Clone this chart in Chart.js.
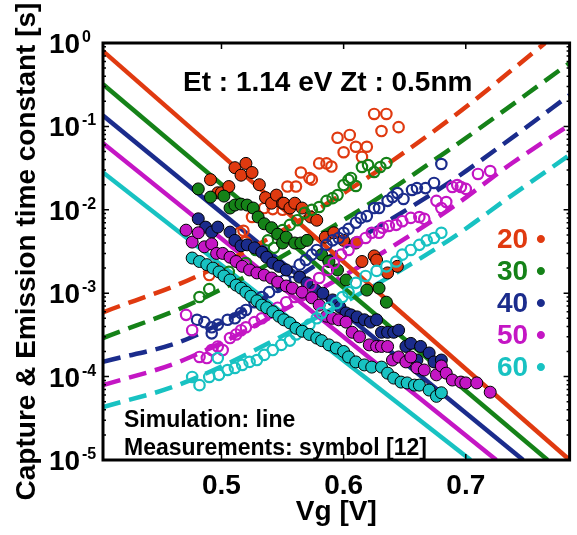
<!DOCTYPE html>
<html>
<head>
<meta charset="utf-8">
<script src="https://cdn.jsdelivr.net/npm/chart.js@4"></script>
<style>
  html, body { margin: 0; padding: 0; background: #fff; }
  #wrap { width: 577px; height: 535px; }
</style>
</head>
<body>
<div id="wrap"><canvas id="tau" width="577" height="535"></canvas></div>
<script>
const temps = ['20', '30', '40', '50', '60'];
const colors = ['#e03a10', '#158218', '#1b2c8c', '#c416c4', '#18c2c2'];

// measurements - capture (filled symbols)
const capVg20 = [0.491,0.497,0.500,0.506,0.511,0.516,0.520,0.525,0.531,0.536,0.541,0.545,0.550,0.551,0.556,0.560,0.566,0.573,0.578,0.585,0.592,0.600,0.610,0.615,0.625,0.627,0.636,0.644];
const capTau20 = [2.3e-2,1.6e-2,1.6e-2,1.9e-2,3.2e-2,2.6e-2,3.6e-2,2.8e-2,2.0e-2,1.4e-2,1.2e-2,1.5e-2,1.2e-2,1.2e-2,1.05e-2,1.2e-2,1.05e-2,8.2e-3,7.5e-3,4.7e-3,5.3e-3,4.3e-3,4.0e-3,2.4e-3,2.8e-3,2.5e-3,1.75e-3,2.1e-3];
const capVg30 = [0.481,0.491,0.502,0.507,0.511,0.516,0.521,0.526,0.530,0.535,0.541,0.546,0.550,0.553,0.560,0.565,0.570,0.582,0.588,0.595,0.602,0.619,0.629,0.635];
const capTau30 = [1.78e-2,1.42e-2,1.46e-2,1.05e-2,1.14e-2,1.17e-2,1.14e-2,1.05e-2,8.2e-3,6.8e-3,6.1e-3,5.1e-3,4.0e-3,4.7e-3,4.0e-3,4.0e-3,4.3e-3,2.9e-3,2.4e-3,1.9e-3,1.44e-3,1.09e-3,1.15e-3,7.8e-4];
const capVg40 = [0.481,0.487,0.492,0.497,0.507,0.511,0.516,0.521,0.527,0.533,0.537,0.542,0.547,0.553,0.564,0.570,0.577,0.583,0.591,0.597,0.602,0.606,0.611,0.617,0.622,0.627,0.631,0.636,0.641,0.645,0.651,0.655,0.663,0.660,0.670,0.674,0.680];
const capTau40 = [7.8e-3,6.2e-3,5.4e-3,6.2e-3,5.4e-3,4.3e-3,3.7e-3,3.8e-3,3.5e-3,3.1e-3,2.7e-3,2.3e-3,2.1e-3,1.9e-3,1.56e-3,1.33e-3,1.09e-3,1.0e-3,8.3e-4,6.8e-4,5.8e-4,5.5e-4,5.2e-4,4.8e-4,4.5e-4,4.8e-4,3.4e-4,3.4e-4,3.4e-4,3.6e-4,2.3e-4,2.5e-4,2.3e-4,1.58e-4,1.92e-4,1.5e-4,1.58e-4];
const capVg50 = [0.471,0.476,0.481,0.486,0.492,0.496,0.501,0.507,0.512,0.517,0.523,0.529,0.535,0.541,0.546,0.553,0.558,0.566,0.574,0.580,0.586,0.591,0.596,0.602,0.607,0.613,0.621,0.627,0.631,0.636,0.640,0.645,0.651,0.655,0.660,0.666,0.676,0.680,0.684,0.689,0.696,0.700,0.709,0.720];
const capTau50 = [5.7e-3,4.1e-3,5.3e-3,3.6e-3,3.9e-3,3.0e-3,3.0e-3,2.7e-3,2.4e-3,2.1e-3,1.9e-3,1.75e-3,1.65e-3,1.52e-3,1.36e-3,1.22e-3,1.15e-3,1.03e-3,8.8e-4,7.2e-4,5.3e-4,5.0e-4,4.8e-4,4.5e-4,3.4e-4,3.0e-4,2.4e-4,2.3e-4,2.3e-4,2.3e-4,1.58e-4,1.72e-4,1.5e-4,1.72e-4,1.27e-4,1.2e-4,1.05e-4,1.34e-4,1.1e-4,9.1e-5,8.6e-5,8.4e-5,8.4e-5,6.5e-5];
const capVg60 = [0.476,0.482,0.488,0.493,0.498,0.502,0.507,0.512,0.516,0.520,0.524,0.529,0.533,0.537,0.542,0.547,0.551,0.556,0.561,0.566,0.572,0.578,0.582,0.588,0.594,0.600,0.604,0.610,0.617,0.623,0.631,0.636,0.641,0.647,0.652,0.658,0.662,0.670,0.676,0.680];
const capTau60 = [2.64e-3,2.4e-3,2.2e-3,2.0e-3,1.8e-3,1.61e-3,1.44e-3,1.25e-3,1.15e-3,1.03e-3,9.2e-4,8.1e-4,7.2e-4,6.7e-4,6.0e-4,5.3e-4,4.8e-4,4.4e-4,3.8e-4,3.5e-4,3.2e-4,2.9e-4,2.7e-4,2.4e-4,2.2e-4,2.0e-4,1.72e-4,1.5e-4,1.38e-4,1.3e-4,1.3e-4,1.1e-4,9.6e-5,8.6e-5,8.4e-5,7.9e-5,7.9e-5,6.9e-5,5.8e-5,6.4e-5];

// measurements - emission (open symbols)
const emiVg20 = [0.490,0.515,0.520,0.518,0.525,0.535,0.542,0.550,0.554,0.561,0.565,0.572,0.574,0.580,0.586,0.590,0.595,0.600,0.605,0.610,0.615,0.619,0.625,0.631,0.635,0.645];
const emiTau20 = [1.65e-3,5.3e-3,4.1e-3,5.6e-3,8.2e-3,1.05e-2,1.02e-2,1.0e-2,1.9e-2,1.9e-2,2.8e-2,2.4e-2,2.3e-2,3.6e-2,3.6e-2,3.3e-2,7.3e-2,4.9e-2,7.9e-2,5.7e-2,4.3e-2,5.7e-2,0.141,8.8e-2,0.141,9.8e-2];
const emiVg30 = [0.482,0.490,0.506,0.520,0.528,0.538,0.543,0.550,0.556,0.562,0.568,0.574,0.580,0.586,0.591,0.595,0.600,0.604,0.606,0.610,0.615,0.620,0.625,0.630,0.635];
const emiTau30 = [9.0e-4,1.12e-3,1.8e-3,2.3e-3,3.3e-3,4.3e-3,3.5e-3,5.7e-3,6.6e-3,7.5e-3,9.2e-3,1.0e-2,1.08e-2,1.28e-2,1.38e-2,1.5e-2,1.98e-2,2.28e-2,2.41e-2,1.93e-2,3.26e-2,3.44e-2,2.84e-2,3.26e-2,3.64e-2];
const emiVg40 = [0.480,0.486,0.492,0.497,0.492,0.505,0.511,0.516,0.520,0.527,0.533,0.539,0.546,0.552,0.558,0.564,0.569,0.574,0.578,0.586,0.591,0.596,0.600,0.604,0.610,0.614,0.619,0.625,0.629,0.636,0.640,0.644,0.649,0.656,0.660,0.667,0.674,0.680];
const emiTau40 = [4.8e-4,4.5e-4,3.9e-4,4.2e-4,3.3e-4,4.8e-4,5.0e-4,5.8e-4,6.3e-4,7.8e-4,9.0e-4,1.03e-3,1.19e-3,1.44e-3,1.8e-3,2.2e-3,2.5e-3,2.9e-3,3.3e-3,3.8e-3,4.3e-3,4.6e-3,5.3e-3,5.9e-3,7.0e-3,8.0e-3,8.4e-3,1.05e-2,1.05e-2,1.28e-2,1.42e-2,1.59e-2,1.35e-2,1.73e-2,1.82e-2,1.82e-2,2.1e-2,3.54e-2];
const emiVg50 = [0.471,0.476,0.482,0.488,0.492,0.497,0.501,0.507,0.512,0.516,0.520,0.527,0.533,0.539,0.546,0.553,0.560,0.566,0.573,0.580,0.587,0.592,0.598,0.604,0.611,0.618,0.623,0.629,0.632,0.637,0.643,0.648,0.655,0.662,0.666,0.676,0.680,0.684,0.689,0.693,0.696,0.700,0.710,0.720];
const emiTau50 = [5.5e-4,3.6e-4,1.72e-4,1.67e-4,2.08e-4,2.3e-4,2.08e-4,2.9e-4,3.2e-4,3.6e-4,3.9e-4,4.5e-4,5.0e-4,5.8e-4,6.7e-4,7.8e-4,9.0e-4,1.03e-3,1.25e-3,1.52e-3,1.9e-3,2.3e-3,2.9e-3,3.3e-3,4.1e-3,4.6e-3,5.3e-3,5.3e-3,6.1e-3,6.4e-3,6.6e-3,7.3e-3,8.0e-3,8.2e-3,7.8e-3,1.28e-2,1.05e-2,1.24e-2,1.88e-2,1.98e-2,1.88e-2,1.78e-2,2.69e-2,2.92e-2];
const emiVg60 = [0.476,0.482,0.490,0.497,0.498,0.505,0.511,0.517,0.523,0.529,0.535,0.542,0.549,0.556,0.561,0.566,0.572,0.578,0.582,0.588,0.594,0.599,0.604,0.610,0.618,0.627,0.635,0.643,0.648,0.655,0.662,0.668,0.674,0.680];
const emiTau60 = [9.9e-5,7.9e-5,9.9e-5,1.67e-4,1.05e-4,1.2e-4,1.27e-4,1.38e-4,1.5e-4,1.58e-4,1.82e-4,2.08e-4,2.4e-4,2.7e-4,3.2e-4,3.6e-4,4.2e-4,5.0e-4,5.8e-4,6.7e-4,7.6e-4,9.0e-4,1.03e-3,1.33e-3,1.61e-3,1.85e-3,2.1e-3,2.4e-3,2.9e-3,3.3e-3,3.8e-3,4.3e-3,4.6e-3,5.3e-3];

// simulation - capture (solid lines)
const simCapVg20 = [0.403, 0.785], simCapTau20 = [0.8, 1e-5];
const simCapVg30 = [0.403, 0.767], simCapTau30 = [0.32, 1e-5];
const simCapVg40 = [0.403, 0.747], simCapTau40 = [0.135, 1e-5];
const simCapVg50 = [0.403, 0.725], simCapTau50 = [0.063, 1e-5];
const simCapVg60 = [0.403, 0.704], simCapTau60 = [0.028, 1e-5];

// simulation - emission (dashed lines)
const simEmiVg20 = [0.403, 0.482, 0.604, 0.686, 0.765], simEmiTau20 = [5.9e-4, 1.65e-3, 1.73e-2, 0.119, 1.0];
const simEmiVg30 = [0.403, 0.482, 0.604, 0.686, 0.785], simEmiTau30 = [2.9e-4, 8.3e-4, 8.2e-3, 5.2e-2, 0.575];
const simEmiVg40 = [0.403, 0.474, 0.604, 0.686, 0.743, 0.785], simEmiTau40 = [1.5e-4, 2.9e-4, 3.8e-3, 2.1e-2, 8.3e-2, 0.238];
const simEmiVg50 = [0.403, 0.469, 0.604, 0.686, 0.738, 0.785], simEmiTau50 = [7.9e-5, 1.58e-4, 1.75e-3, 1.0e-2, 3.64e-2, 0.104];
const simEmiVg60 = [0.403, 0.469, 0.604, 0.686, 0.738, 0.785], simEmiTau60 = [4.3e-5, 8.4e-5, 8.3e-4, 4.3e-3, 1.5e-2, 4.54e-2];

const xTicks = [0.5, 0.6, 0.7];
const yTicks = [1e-5, 1e-4, 1e-3, 1e-2, 1e-1, 1];

const capVg = [capVg20, capVg30, capVg40, capVg50, capVg60];
const capTau = [capTau20, capTau30, capTau40, capTau50, capTau60];
const emiVg = [emiVg20, emiVg30, emiVg40, emiVg50, emiVg60];
const emiTau = [emiTau20, emiTau30, emiTau40, emiTau50, emiTau60];
const simCapVg = [simCapVg20, simCapVg30, simCapVg40, simCapVg50, simCapVg60];
const simCapTau = [simCapTau20, simCapTau30, simCapTau40, simCapTau50, simCapTau60];
const simEmiVg = [simEmiVg20, simEmiVg30, simEmiVg40, simEmiVg50, simEmiVg60];
const simEmiTau = [simEmiTau20, simEmiTau30, simEmiTau40, simEmiTau50, simEmiTau60];

const FONT = '"Liberation Sans", Arial, Helvetica, sans-serif';

function toXY(xs, ys) {
    return xs.map((x, i) => ({ x: x, y: ys[i] }));
}

const datasets = [];
temps.forEach((t, i) => {
    datasets.push({
        label: t + ' capture',
        data: toXY(capVg[i], capTau[i]),
        showLine: false,
        pointRadius: 6,
        pointBackgroundColor: colors[i],
        pointBorderColor: '#000',
        pointBorderWidth: 1,
        order: 10 - i
    });
    datasets.push({
        label: t + ' emission',
        data: toXY(emiVg[i], emiTau[i]),
        showLine: false,
        pointRadius: 5.2,
        pointBackgroundColor: 'rgba(0,0,0,0)',
        pointBorderColor: colors[i],
        pointBorderWidth: 2.2,
        order: 10 - i
    });
    datasets.push({
        label: t + ' sim capture',
        data: toXY(simCapVg[i], simCapTau[i]),
        showLine: true,
        borderColor: colors[i],
        borderWidth: 4.5,
        pointRadius: 0,
        order: 30
    });
    datasets.push({
        label: t + ' sim emission',
        data: toXY(simEmiVg[i], simEmiTau[i]),
        showLine: true,
        borderColor: colors[i],
        borderWidth: 4.5,
        borderDash: [18, 9],
        cubicInterpolationMode: 'monotone',
        pointRadius: 0,
        order: 30
    });
});

// frame, inward ticks, y labels with superscripts, annotations
const frame = {
    id: 'frame',
    afterDraw(chart) {
        const ctx = chart.ctx;
        const a = chart.chartArea;
        const x = chart.scales.x;
        const y = chart.scales.y;

        ctx.save();
        ctx.strokeStyle = '#000';
        ctx.lineWidth = 1.5;
        ctx.beginPath();
        x.ticks.forEach(t => {
            const px = x.getPixelForValue(t.value);
            ctx.moveTo(px, a.bottom); ctx.lineTo(px, a.bottom - 6);
            ctx.moveTo(px, a.top); ctx.lineTo(px, a.top + 6);
        });
        y.ticks.forEach(t => {
            const py = y.getPixelForValue(t.value);
            ctx.moveTo(a.left, py); ctx.lineTo(a.left + 6, py);
            ctx.moveTo(a.right, py); ctx.lineTo(a.right - 6, py);
            if (t.value < 1) {
                for (let m = 2; m <= 9; m++) {
                    const pm = y.getPixelForValue(t.value * m);
                    ctx.moveTo(a.left, pm); ctx.lineTo(a.left + 3, pm);
                    ctx.moveTo(a.right, pm); ctx.lineTo(a.right - 3, pm);
                }
            }
        });
        ctx.stroke();

        ctx.lineWidth = 3;
        ctx.strokeRect(a.left, a.top, a.right - a.left, a.bottom - a.top);

        ctx.fillStyle = '#000';
        ctx.textAlign = 'left';
        ctx.textBaseline = 'alphabetic';
        y.ticks.forEach(t => {
            const py = y.getPixelForValue(t.value);
            const e = Math.round(Math.log10(t.value));
            ctx.font = 'bold 28px ' + FONT;
            ctx.fillText('10', a.left - 54, py + 10);
            ctx.font = 'bold 16px ' + FONT;
            ctx.fillText(String(e), a.left - 21, py - 1);
        });

        ctx.font = 'bold 28px ' + FONT;
        ctx.fillText('Et : 1.14 eV Zt : 0.5nm', 183, 91);

        ctx.font = 'bold 23px ' + FONT;
        ctx.fillText('Simulation: line', 124, 427);
        ctx.fillText('Measurements: symbol [12]', 124, 455);

        ctx.font = 'bold 28px ' + FONT;
        temps.forEach((t, i) => {
            ctx.fillStyle = colors[i];
            ctx.fillText(t + ' \u2022', 497, 248 + 32 * i);
        });
        ctx.restore();
    }
};

new Chart(document.getElementById('tau'), {
    type: 'scatter',
    data: { datasets: datasets },
    options: {
        responsive: false,
        animation: false,
        layout: { padding: { top: 43, right: 6, left: 0, bottom: 0 } },
        plugins: {
            legend: { display: false },
            tooltip: { enabled: false }
        },
        scales: {
            x: {
                type: 'linear',
                min: 0.403,
                max: 0.785,
                grid: { display: false },
                border: { display: false },
                afterBuildTicks: s => { s.ticks = xTicks.map(v => ({ value: v })); },
                afterFit: s => { s.height = 75; },
                ticks: {
                    color: '#000',
                    padding: 1,
                    maxRotation: 0,
                    font: { family: FONT, size: 28, weight: 'bold' },
                    callback: v => v.toFixed(1)
                },
                title: {
                    display: true,
                    text: 'Vg [V]',
                    color: '#000',
                    font: { family: FONT, size: 28, weight: 'bold' },
                    padding: { top: 0, bottom: 6 }
                }
            },
            y: {
                type: 'logarithmic',
                min: 1e-5,
                max: 1,
                grid: { display: false },
                border: { display: false },
                afterBuildTicks: s => { s.ticks = yTicks.map(v => ({ value: v })); },
                afterFit: s => { s.width = 103; },
                ticks: { display: false },
                title: {
                    display: true,
                    text: 'Capture & Emission time constant [s]',
                    color: '#000',
                    font: { family: FONT, size: 28, weight: 'bold' },
                    padding: { top: 10, bottom: 0 }
                }
            }
        }
    },
    plugins: [frame]
});
</script>
</body>
</html>
